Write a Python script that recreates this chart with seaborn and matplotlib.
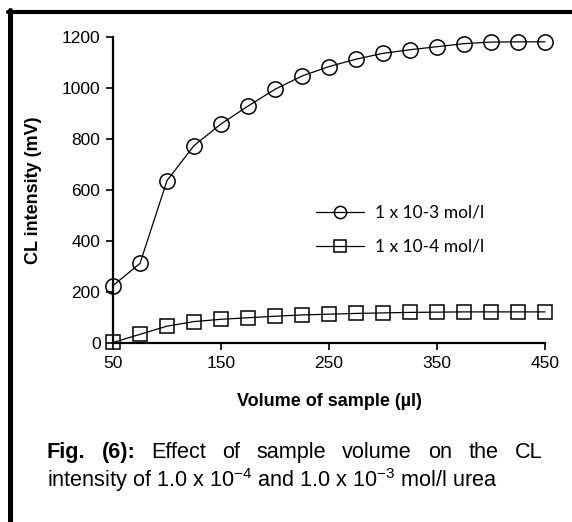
import matplotlib
matplotlib.use('Agg')
import matplotlib.pyplot as plt
from matplotlib.lines import Line2D
import seaborn as sns
import pandas as pd

# sample volume (ul)
volume = [50, 75, 100, 125, 150, 175, 200, 225, 250, 275, 300, 325, 350, 375, 400, 425, 450]
# CL intensity (mV)
cl_1e3 = [225, 312, 637, 774, 859, 929, 995, 1047, 1084, 1113, 1136, 1150, 1162, 1174, 1180, 1181, 1181]
cl_1e4 = [2, 34, 66, 84, 93, 99, 105, 110, 113, 116, 118, 120, 121, 122, 122, 122, 122]
series_names = ['1 x 10-3 mol/l', '1 x 10-4 mol/l']

x_ticks = [50, 150, 250, 350, 450]
y_ticks = [0, 200, 400, 600, 800, 1000, 1200]

df = pd.DataFrame({
    'volume': volume * 2,
    'cl': cl_1e3 + cl_1e4,
    'conc': [series_names[0]] * len(volume) + [series_names[1]] * len(volume),
})

sns.set_style('white')
plt.rcParams['font.family'] = ['Liberation Sans', 'DejaVu Sans']
plt.rcParams['mathtext.fontset'] = 'custom'
plt.rcParams['mathtext.rm'] = 'Liberation Sans'
plt.rcParams['mathtext.default'] = 'regular'
plt.rcParams['text.color'] = 'black'
plt.rcParams['axes.labelcolor'] = 'black'

W, H = 572, 522
fig = plt.figure(figsize=(W / 100, H / 100), dpi=100)
ax = fig.add_axes([113 / W, 1 - 343 / H, (545 - 113) / W, (343 - 37) / H])

sns.lineplot(data=df, x='volume', y='cl', hue='conc', style='conc',
             hue_order=series_names, style_order=series_names,
             palette=['black', 'black'], markers={series_names[0]: 'o', series_names[1]: 's'},
             dashes=False, linewidth=0.9, ax=ax, legend=False)
sizes = [11, 10]
for ln, ms in zip(ax.lines, sizes):
    ln.set_markerfacecolor('none')
    ln.set_markeredgecolor('black')
    ln.set_markeredgewidth(1.1)
    ln.set_markersize(ms)
    ln.set_clip_on(False)

ax.set_xlim(50, 450)
ax.set_ylim(0, 1200)
ax.set_xticks(x_ticks)
ax.set_yticks(y_ticks)
for s in ['top', 'right']:
    ax.spines[s].set_visible(False)
for s in ['left', 'bottom']:
    ax.spines[s].set_linewidth(1.6)
    ax.spines[s].set_color('black')
ax.tick_params(axis='both', which='major', direction='out', length=5, width=1.2,
               colors='black', labelsize=12.5, left=True, bottom=True, pad=4)

ax.set_xlabel('Volume of sample (µl)', fontsize=13, fontweight='bold', va='center')
ax.xaxis.set_label_coords(0.5, -(402 - 343) / 306)
ax.set_ylabel('CL intensity (mV)', fontsize=13, fontweight='bold', va='center')
ax.yaxis.set_label_coords(-(113 - 34) / 432, 0.5)

leg = ax.legend(handles=[ax.lines[0], ax.lines[1]], labels=series_names,
                loc='upper left', bbox_to_anchor=(307 / W, 1 - 196 / H),
                bbox_transform=fig.transFigure, frameon=False, borderpad=0,
                handlelength=2.8, handletextpad=0.6, labelspacing=1.05,
                markerscale=0.8, prop={'family': 'Lato', 'size': 12.5})

# outer frame: thick left and top rules
fig.add_artist(Line2D([10 / W, 10 / W], [0, 1 - 10 / H], color='black', lw=3.6,
                      transform=fig.transFigure))
fig.add_artist(Line2D([8 / W, 1], [1 - 12 / H, 1 - 12 / H], color='black', lw=3.0,
                      transform=fig.transFigure))

# caption, first line justified between x=47 and x=541
cap_size = 15.6
words = ['Fig.', '(6):', 'Effect', 'of', 'sample', 'volume', 'on', 'the', 'CL']
weights = ['bold', 'bold'] + ['normal'] * 7
r = fig.canvas.get_renderer()
texts = [fig.text(0, 1 - 458 / H, w, fontsize=cap_size, fontweight=wt, va='baseline')
         for w, wt in zip(words, weights)]
widths = [t.get_window_extent(renderer=r).width for t in texts]
gap = (542 - 47 - sum(widths)) / (len(words) - 1)
xpos = 47
for t, wd in zip(texts, widths):
    t.set_x(xpos / W)
    xpos += wd + gap

fig.text(47 / W, 1 - 487 / H,
         'intensity of 1.0 x 10$^{-4}$ and 1.0 x 10$^{-3}$ mol/l urea',
         fontsize=cap_size, va='baseline')

fig.savefig('out.png', dpi=100, facecolor='white')
